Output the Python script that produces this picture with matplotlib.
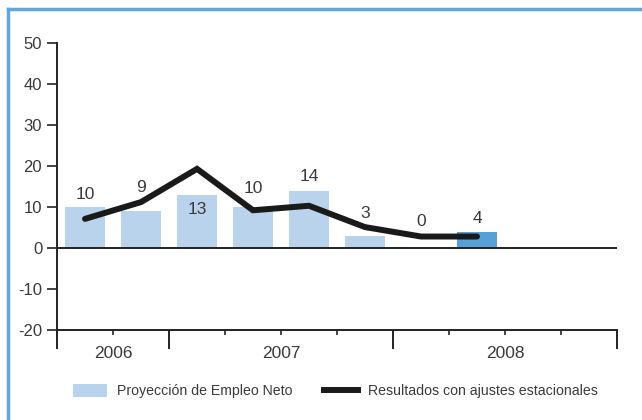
import matplotlib.pyplot as plt
from matplotlib.patches import Patch
from matplotlib.lines import Line2D

plt.rcParams['font.family'] = ['Liberation Sans', 'DejaVu Sans']

# quarterly data, 2006 Q3 .. 2008 Q2
net_outlook = [10, 9, 13, 10, 14, 3, 0, 4]
seasonal_adj = [7.1, 11.2, 19.3, 9.2, 10.3, 5.1, 2.8, 2.8]
label_pos = [13.0, 14.8, 9.3, 14.4, 17.5, 8.3, 6.5, 7.1]
years = ['2006', '2007', '2008']
year_pos = [1, 4, 8]
year_bounds = [0, 2, 6, 10]

light_blue = '#b9d3ec'
dark_blue = '#55a0d7'
border_blue = '#5fa7dc'
text_col = '#3a3a3a'

fig = plt.figure(figsize=(6.42, 4.2), dpi=100)
ax = fig.add_axes([57 / 642, 90 / 420, 560 / 642, 287 / 420])

xs = [i + 0.5 for i in range(len(net_outlook))]
colors = [light_blue] * (len(net_outlook) - 1) + [dark_blue]
ax.bar(xs, net_outlook, width=0.73, color=colors, zorder=2)
ax.plot(xs, seasonal_adj, color='#1a1a1a', lw=4.3, solid_capstyle='round',
        solid_joinstyle='miter', zorder=3)
for x, v, y in zip(xs, net_outlook, label_pos):
    ax.text(x, y, str(v), ha='center', va='center', fontsize=12.5,
            color=text_col, zorder=4)

ax.axhline(0, xmin=0, xmax=1, color='#222222', lw=1.4, zorder=2)

ax.set_xlim(0, 10)
ax.set_ylim(-20, 50)
ax.set_yticks(range(-20, 51, 10))
ax.set_yticklabels([str(v) for v in range(-20, 51, 10)])
ax.set_xticks(year_bounds)
ax.set_xticklabels([])
ax.set_xticks([1, 3, 4, 5, 7, 8, 9], minor=True)

for s in ['top', 'right']:
    ax.spines[s].set_visible(False)
for s in ['left', 'bottom']:
    ax.spines[s].set_color('#222222')
    ax.spines[s].set_linewidth(1.4)

ax.tick_params(axis='y', length=7.2, width=1.2, color='#222222',
               labelsize=12, labelcolor=text_col, pad=3.5)
ax.tick_params(axis='x', which='major', length=13.7, width=1.4,
               color='#222222')
ax.tick_params(axis='x', which='minor', length=3.6, width=1.2,
               color='#222222')

for x, yr in zip(year_pos, years):
    ax.annotate(yr, xy=(x, -20), xytext=(0, -17), textcoords='offset points',
                ha='center', va='center', fontsize=12.5, color=text_col,
                annotation_clip=False)

handles = [Patch(facecolor=light_blue, edgecolor='none'),
           Line2D([0], [0], color='#1a1a1a', lw=4.3)]
leg = fig.legend(handles, ['Proyección de Empleo Neto',
                           'Resultados con ajustes estacionales'],
                 loc='center left', bbox_to_anchor=(73 / 642, 1 - 391 / 420),
                 ncol=2, frameon=False, fontsize=10.2, handlelength=2.4,
                 handleheight=1.05, handletextpad=0.7, columnspacing=2.2,
                 borderpad=0, borderaxespad=0)
for t in leg.get_texts():
    t.set_color(text_col)

# blue frame at top and left
fig.add_artist(Line2D([8 / 642, 8 / 642], [0, 1 - 8.5 / 420],
                      transform=fig.transFigure, color=border_blue, lw=2.5))
fig.add_artist(Line2D([8 / 642, 1], [1 - 8.5 / 420, 1 - 8.5 / 420],
                      transform=fig.transFigure, color=border_blue, lw=2.5))

fig.savefig('out.png', dpi=100)
plt.close(fig)
